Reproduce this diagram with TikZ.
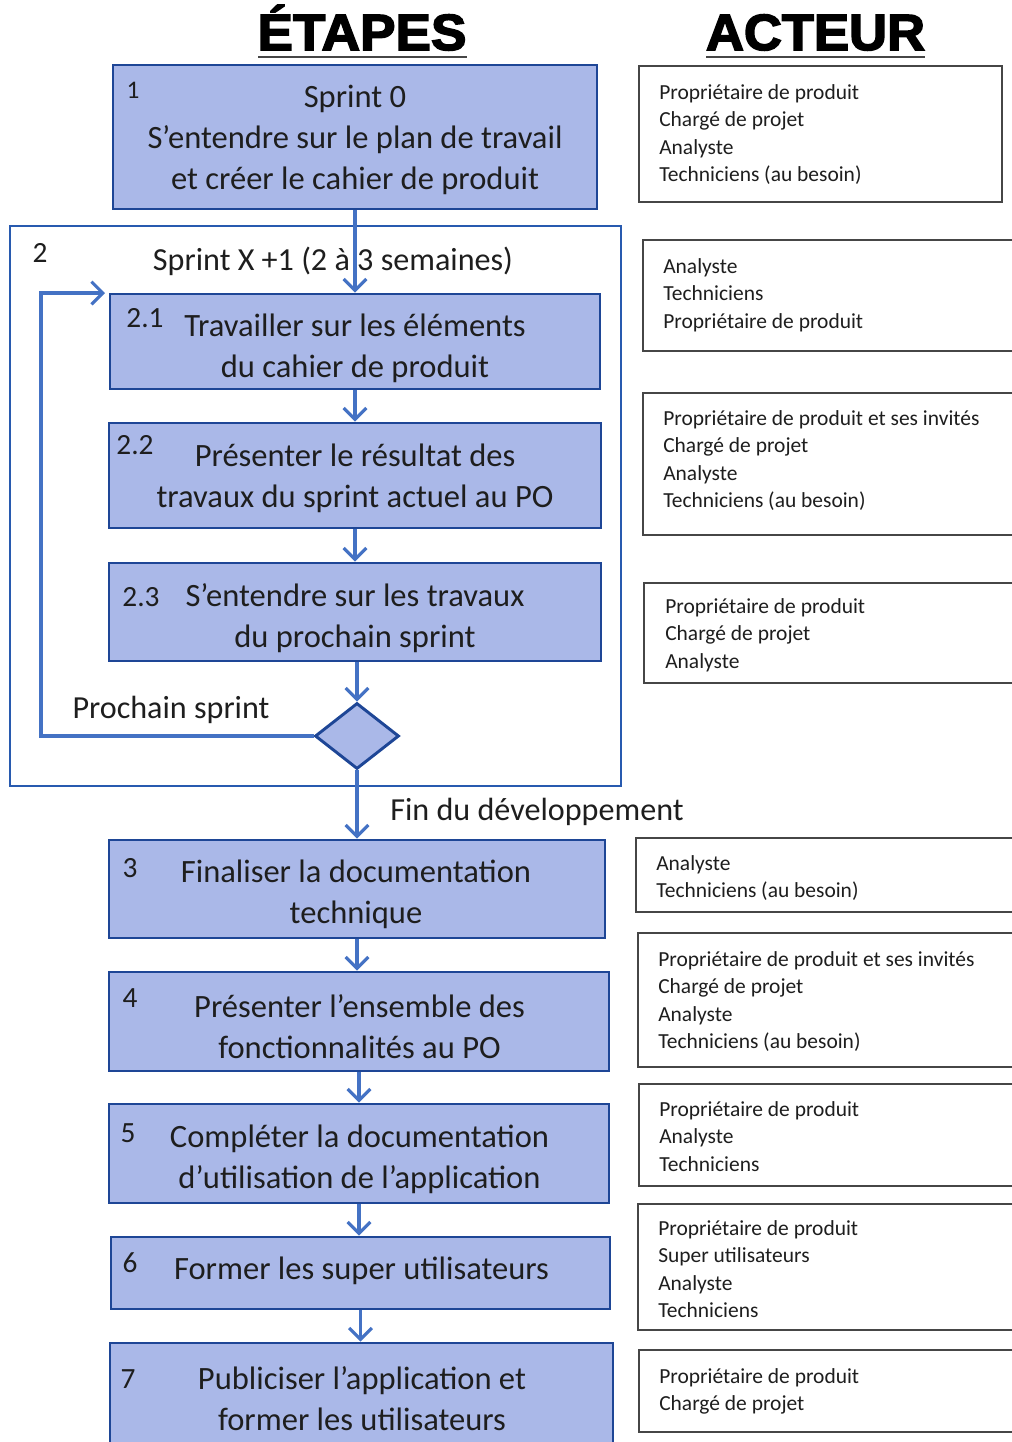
\documentclass[tikz,border=0pt]{standalone}
\usepackage{fontspec}
\setmainfont{Carlito}
\newfontfamily\hdrfont{Liberation Sans}[BoldFeatures={FakeBold=3}]
\usetikzlibrary{arrows.meta,shapes.geometric}
\definecolor{boxfill}{RGB}{170,184,232}
\definecolor{boxline}{RGB}{30,70,150}
\definecolor{contline}{RGB}{40,90,175}
\definecolor{arrcol}{RGB}{68,114,196}
\definecolor{txt}{RGB}{30,30,30}
\definecolor{actline}{RGB}{70,70,70}
\newcommand\hdrtxt[2]{\resizebox{#1}{26.25pt}{\hdrfont\bfseries\smash{#2}\vphantom{A}}}
\begin{document}
\begin{tikzpicture}[x=0.75pt,y=-0.75pt,
  stepbox/.style={draw=boxline, line width=2.2pt, fill=boxfill, inner sep=0pt},
  steptext/.style={inner sep=0pt, align=center, text=txt, font=\fontsize{24.4}{30.75}\selectfont},
  numlbl/.style={inner sep=0pt, text=txt, font=\fontsize{22}{24}\selectfont},
  biglbl/.style={inner sep=0pt, text=txt, font=\fontsize{24.1}{28}\selectfont},
  actbox/.style={draw=actline, line width=1.1pt, fill=white, inner sep=0pt},
  acttext/.style={anchor=north west, inner sep=0pt, align=left, text=txt,
    font=\fontsize{16.1}{20.6}\selectfont},
  arr/.style={draw=arrcol, line width=2.3pt, -{Straight Barb[length=8.5pt,width=17pt,line width=2.3pt]}},
  ul/.style={draw=actline, line width=1.5pt}
]
\useasboundingbox (0,0) rectangle (1012,1442);
\clip (0,0) rectangle (1012,1442);

% headers
\node[inner sep=0pt] (hE) at (362,32.5) {\hdrtxt{156.75pt}{ÉTAPES}};
\node[inner sep=0pt] (hA) at (815.5,32.5) {\hdrtxt{164.25pt}{ACTEUR}};
\draw[ul] (258,57) -- (467,57);
\draw[ul] (706,57) -- (925,57);

% container of step 2
\node[draw=contline, line width=1.9pt, minimum width=611*0.75pt, minimum height=560*0.75pt, inner sep=0pt] (c2) at (315.5,506) {};
\node[numlbl] (n2) at (40,253) {2};
\node[biglbl] (s2) at (333,261) {Sprint X +1 (2 à 3 semaines)};

% step boxes
\node[stepbox, minimum width=484*0.75pt, minimum height=144*0.75pt] (b1) at (355,137) {};
\node[steptext] (b1t) at (355,140) {Sprint 0\\S’entendre sur le plan de travail\\et créer le cahier de produit};
\node[stepbox, minimum width=490*0.75pt, minimum height=95*0.75pt] (b21) at (355,341.5) {};
\node[steptext] (b21t) at (355,348) {Travailler sur les éléments\\du cahier de produit};
\node[stepbox, minimum width=492*0.75pt, minimum height=105*0.75pt] (b22) at (355,475.5) {};
\node[steptext] (b22t) at (355,478.5) {Présenter le résultat des\\travaux du sprint actuel au PO};
\node[stepbox, minimum width=492*0.75pt, minimum height=98*0.75pt] (b23) at (355,612) {};
\node[steptext] (b23t) at (355,618) {S’entendre sur les travaux\\du prochain sprint};
\node[diamond, draw=boxline, fill=boxfill, line width=2.2pt, minimum width=84*0.75pt, minimum height=66*0.75pt, inner sep=0pt] (dia) at (357,736) {};
\node[stepbox, minimum width=496*0.75pt, minimum height=98*0.75pt] (b3) at (357,889) {};
\node[steptext] (b3t) at (356,894.5) {Finaliser la documentation\\technique};
\node[stepbox, minimum width=500*0.75pt, minimum height=99*0.75pt] (b4) at (359,1021.5) {};
\node[steptext] (b4t) at (359.5,1026.5) {Présenter l’ensemble des\\fonctionnalités au PO};
\node[stepbox, minimum width=500*0.75pt, minimum height=99*0.75pt] (b5) at (359,1153.5) {};
\node[steptext] (b5t) at (359.5,1159.5) {Compléter la documentation\\d’utilisation de l’application};
\node[stepbox, minimum width=499*0.75pt, minimum height=72*0.75pt] (b6) at (360.5,1273) {};
\node[steptext] (b6t) at (361.5,1271) {Former les super utilisateurs};
\node[stepbox, minimum width=503*0.75pt, minimum height=120*0.75pt] (b7) at (361.5,1403) {};
\node[steptext] (b7t) at (362,1398.5) {Publiciser l’application et\\former les utilisateurs};

% numbers
\node[numlbl, font=\fontsize{19}{21}\selectfont] (n1) at (133,90) {1};
\node[numlbl] (n21) at (145,318) {2.1};
\node[numlbl] (n22) at (135,445) {2.2};
\node[numlbl] (n23) at (141,597) {2.3};
\node[numlbl] (n3) at (130,868) {3};
\node[numlbl] (n4) at (130,998) {4};
\node[numlbl] (n5) at (128,1133) {5};
\node[numlbl] (n6) at (130,1263) {6};
\node[numlbl] (n7) at (128,1379) {7};

% labels
\node[biglbl] (lp) at (171,710) {Prochain sprint};
\node[biglbl] (lf) at (537,812) {Fin du développement};

% arrows
\draw[arr] (b1.south) -- (b21.north);
\draw[arr] (b21.south) -- (b22.north);
\draw[arr] (b22.south) -- (b23.north);
\draw[arr] (b23.south -| dia.north) -- (dia.north);
\draw[arr] (dia.south) -- (dia.south |- b3.north);
\draw[arr] (b3.south) -- (b3.south |- b4.north);
\draw[arr] (b4.south) -- (b4.south |- b5.north);
\draw[arr] (b5.south) -- (b5.south |- b6.north);
\draw[arr] (b6.south) -- (b6.south |- b7.north);
\coordinate (loopL) at (41,293);
\coordinate (loopT) at (105,293);
\draw[arr] (dia.west) -| (loopL) -- (loopT);

% actor boxes
\node[actbox, minimum width=363*0.75pt, minimum height=136*0.75pt] (a1) at (820.5,134) {};
\node[acttext] (t1) at (659,84.3) {Propriétaire de produit\\Chargé de projet\\Analyste\\Techniciens (au besoin)};
\node[actbox, minimum width=377*0.75pt, minimum height=111*0.75pt] (a2) at (831.5,295.5) {};
\node[acttext] (t2) at (663,258.3) {Analyste\\Techniciens\\Propriétaire de produit};
\node[actbox, minimum width=377*0.75pt, minimum height=142*0.75pt] (a3) at (831.5,464) {};
\node[acttext] (t3) at (663,410.3) {Propriétaire de produit et ses invités\\Chargé de projet\\Analyste\\Techniciens (au besoin)};
\node[actbox, minimum width=376*0.75pt, minimum height=100*0.75pt] (a4) at (832,633) {};
\node[acttext] (t4) at (665,598.3) {Propriétaire de produit\\Chargé de projet\\Analyste};
\node[actbox, minimum width=384*0.75pt, minimum height=74*0.75pt] (a5) at (828,875) {};
\node[acttext] (t5) at (656,855.3) {Analyste\\Techniciens (au besoin)};
\node[actbox, minimum width=382*0.75pt, minimum height=134*0.75pt] (a6) at (829,1000) {};
\node[acttext] (t6) at (658,951.3) {Propriétaire de produit et ses invités\\Chargé de projet\\Analyste\\Techniciens (au besoin)};
\node[actbox, minimum width=381*0.75pt, minimum height=102*0.75pt] (a7) at (829.5,1135) {};
\node[acttext] (t7) at (659,1101.3) {Propriétaire de produit\\Analyste\\Techniciens};
\node[actbox, minimum width=382*0.75pt, minimum height=126*0.75pt] (a8) at (829,1267) {};
\node[acttext] (t8) at (658,1220.3) {Propriétaire de produit\\Super utilisateurs\\Analyste\\Techniciens};
\node[actbox, minimum width=381*0.75pt, minimum height=82*0.75pt] (a9) at (829.5,1391) {};
\node[acttext] (t9) at (659,1368.3) {Propriétaire de produit\\Chargé de projet};
\end{tikzpicture}
\end{document}
